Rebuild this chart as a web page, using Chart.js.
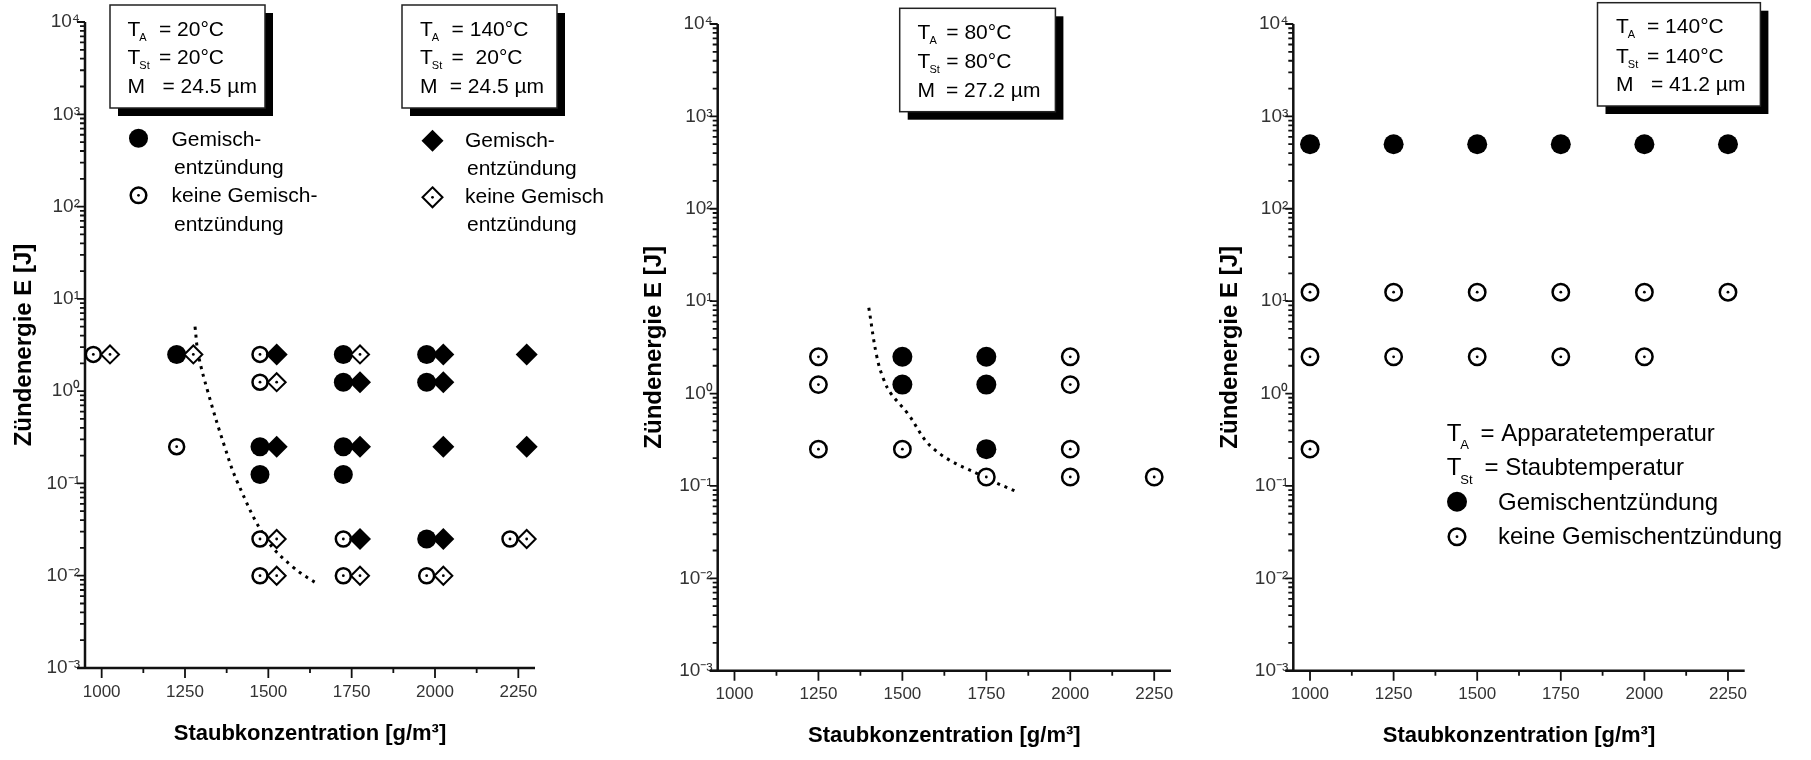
<!DOCTYPE html>
<html>
<head>
<meta charset="utf-8">
<script src="https://cdn.jsdelivr.net/npm/chart.js@4.4.1/dist/chart.umd.min.js"></script>
<style>
html, body { margin: 0; padding: 0; background: #fff; }
#wrap { position: relative; width: 1811px; height: 760px; overflow: hidden; }
canvas { position: absolute; top: 0; }
</style>
</head>
<body>
<div id="wrap">
  <canvas id="c1" width="620" height="760" style="left:0px"></canvas>
  <canvas id="c2" width="580" height="760" style="left:620px"></canvas>
  <canvas id="c3" width="611" height="760" style="left:1200px"></canvas>
</div>
<script>
// axis ticks
const xMajor = [1000, 1250, 1500, 1750, 2000, 2250]
const xMinor = [1125, 1375, 1625, 1875, 2125]
const yExps = [-3, -2, -1, 0, 1, 2, 3, 4]

// panel 1: TA=20°C (circles) and TA=140°C (diamonds), M=24.5 µm
const p1CircIgnX = [1250, 1500, 1500, 1750, 1750, 1750, 1750, 2000, 2000, 2000]
const p1CircIgnE = [2.5, 0.25, 0.125, 2.5, 1.25, 0.25, 0.125, 2.5, 1.25, 0.025]
const p1CircNoX = [1000, 1250, 1500, 1500, 1500, 1500, 1750, 1750, 2000, 2250]
const p1CircNoE = [2.5, 0.25, 2.5, 1.25, 0.025, 0.01, 0.025, 0.01, 0.01, 0.025]
const p1DiaIgnX = [1500, 1500, 1750, 1750, 1750, 2000, 2000, 2000, 2000, 2250, 2250]
const p1DiaIgnE = [2.5, 0.25, 1.25, 0.25, 0.025, 2.5, 1.25, 0.25, 0.025, 2.5, 0.25]
const p1DiaNoX = [1000, 1250, 1500, 1500, 1500, 1750, 1750, 2000, 2250]
const p1DiaNoE = [2.5, 2.5, 1.25, 0.025, 0.01, 2.5, 0.01, 0.01, 0.025]
const p1CurveX = [1280, 1290, 1318, 1369, 1409, 1494, 1573, 1650]
const p1CurveE = [5, 2.5, 1, 0.25, 0.1, 0.025, 0.0125, 0.008]

// panel 2: TA=80°C, M=27.2 µm
const p2IgnX = [1500, 1500, 1750, 1750, 1750]
const p2IgnE = [2.5, 1.25, 2.5, 1.25, 0.25]
const p2NoX = [1250, 1250, 1250, 1500, 1750, 2000, 2000, 2000, 2000, 2250]
const p2NoE = [2.5, 1.25, 0.25, 0.25, 0.125, 2.5, 1.25, 0.25, 0.125, 0.125]
const p2CurveX = [1400, 1424, 1445, 1466, 1514, 1594, 1743, 1845]
const p2CurveE = [8.5, 2.5, 1.4, 1, 0.62, 0.25, 0.125, 0.085]

// panel 3: TA=140°C, M=41.2 µm
const p3IgnX = [1000, 1250, 1500, 1750, 2000, 2250]
const p3IgnE = [500, 500, 500, 500, 500, 500]
const p3NoX = [1000, 1250, 1500, 1750, 2000, 2250, 1000, 1250, 1500, 1750, 2000, 1000]
const p3NoE = [12.5, 12.5, 12.5, 12.5, 12.5, 12.5, 2.5, 2.5, 2.5, 2.5, 2.5, 0.25]

const FONT = '"Liberation Sans", Arial, Helvetica, sans-serif'
const SUP = {'-': '⁻', '0': '⁰', '1': '¹', '2': '²', '3': '³', '4': '⁴', '5': '⁵', '6': '⁶', '7': '⁷', '8': '⁸', '9': '⁹'}

const pts = (xs, ys, dx = 0) => xs.map((x, i) => ({x: x + dx, y: ys[i]}))

const filled = (data, style, r, order) => ({
    data, order, pointStyle: style, pointRadius: r, pointHoverRadius: r,
    pointBackgroundColor: '#000', pointBorderColor: '#000', pointBorderWidth: 0, clip: false
})
const hollow = (data, style, r, bw, order) => ({
    data, order, pointStyle: style, pointRadius: r, pointHoverRadius: r,
    pointBackgroundColor: '#fff', pointBorderColor: '#000', pointBorderWidth: bw, clip: false
})
const dots = (data) => ({
    data, order: 0, pointStyle: 'circle', pointRadius: 1.4, pointHoverRadius: 1.4,
    pointBackgroundColor: '#000', pointBorderWidth: 0, clip: false
})
const curve = (data) => ({
    data, order: 9, showLine: true, pointRadius: 0, borderColor: '#000', borderWidth: 3,
    borderDash: [3, 5], tension: 0.4, fill: false, clip: false
})

// axis lines and tick marks
const axesPlugin = {
    id: 'frameAxes',
    beforeDatasetsDraw(chart) {
        const {ctx, chartArea: a, scales: {x, y}} = chart
        ctx.save()
        ctx.strokeStyle = '#111'
        ctx.lineWidth = 2.5
        ctx.beginPath()
        ctx.moveTo(a.left, a.top)
        ctx.lineTo(a.left, a.bottom)
        ctx.moveTo(a.left - 8, a.bottom)
        ctx.lineTo(a.right, a.bottom)
        ctx.stroke()
        ctx.lineWidth = 1.8
        ctx.beginPath()
        xMajor.forEach(v => {
            const px = x.getPixelForValue(v)
            ctx.moveTo(px, a.bottom)
            ctx.lineTo(px, a.bottom + 10)
        })
        xMinor.forEach(v => {
            const px = x.getPixelForValue(v)
            ctx.moveTo(px, a.bottom)
            ctx.lineTo(px, a.bottom + 5)
        })
        yExps.forEach(e => {
            for (let k = 1; k <= 9; k++) {
                if (e === 4 && k > 1) break
                const py = y.getPixelForValue(k * Math.pow(10, e))
                ctx.moveTo(a.left - (k === 1 ? 8 : 5), py)
                ctx.lineTo(a.left, py)
            }
        })
        ctx.stroke()
        ctx.restore()
    }
}

const makeScales = (yWidth, xHeight, yTitlePad, xTitlePad) => ({
    x: {
        type: 'linear', min: 950, max: 2300,
        afterBuildTicks: s => { s.ticks = xMajor.map(v => ({value: v})) },
        afterFit: s => { s.height = xHeight },
        grid: {display: false, drawTicks: false},
        border: {display: false},
        ticks: {autoSkip: false, maxRotation: 0, padding: 13.8, color: '#333', font: {family: FONT, size: 17},
            callback: v => String(v)},
        title: {display: true, text: 'Staubkonzentration [g/m³]', color: '#000',
            font: {family: FONT, size: 22, weight: 'bold'}, padding: {top: 0, bottom: xTitlePad}}
    },
    y: {
        type: 'logarithmic', min: 1e-3, max: 1e4,
        afterBuildTicks: s => { s.ticks = yExps.map(e => ({value: Math.pow(10, e)})) },
        afterFit: s => { s.width = yWidth },
        grid: {display: false, drawTicks: false},
        border: {display: false},
        ticks: {
            autoSkip: false, padding: 5, color: '#333', font: {family: FONT, size: 19},
            callback: v => '10' + String(Math.round(Math.log10(v))).split('').map(c => SUP[c]).join('')
        },
        title: {display: true, text: 'Zündenergie E [J]', color: '#000',
            font: {family: FONT, size: 24, weight: 'bold'}, padding: {top: yTitlePad, bottom: 0}}
    }
})

// drawing helpers for the text boxes and legends
const setFont = (ctx, size, bold) => { ctx.font = (bold ? 'bold ' : '') + size + 'px ' + FONT }
const tRow = (ctx, x, base, sub, eqX, rest, size, subSize, subDy) => {
    setFont(ctx, size)
    ctx.fillText('T', x, base)
    const w = ctx.measureText('T').width
    setFont(ctx, subSize)
    ctx.fillText(sub, x + w - 1, base + subDy)
    setFont(ctx, size)
    ctx.fillText(rest, eqX, base)
}
const infoBox = (ctx, x1, y1, x2, y2) => {
    ctx.fillStyle = '#000'
    ctx.fillRect(x1 + 8, y1 + 8, x2 - x1, y2 - y1)
    ctx.fillStyle = '#fff'
    ctx.fillRect(x1, y1, x2 - x1, y2 - y1)
    ctx.strokeStyle = '#222'
    ctx.lineWidth = 1.5
    ctx.strokeRect(x1, y1, x2 - x1, y2 - y1)
    ctx.fillStyle = '#000'
}
const boxText = (ctx, tx, eq, base, vals) => {
    tRow(ctx, tx, base[0], 'A', eq[0], vals[0], 21, 11, 5)
    tRow(ctx, tx, base[1], 'St', eq[1], vals[1], 21, 11, 5)
    setFont(ctx, 21)
    ctx.fillText('M', tx, base[2])
    ctx.fillText(vals[2], eq[2], base[2])
}
const symCircle = (ctx, x, y, r, isFilled) => {
    ctx.beginPath()
    ctx.arc(x, y, r, 0, Math.PI * 2)
    if (isFilled) { ctx.fillStyle = '#000'; ctx.fill() }
    else {
        ctx.lineWidth = 2.5; ctx.strokeStyle = '#000'; ctx.stroke()
        ctx.beginPath(); ctx.arc(x, y, 1.4, 0, Math.PI * 2); ctx.fillStyle = '#000'; ctx.fill()
    }
}
const symDiamond = (ctx, x, y, r, isFilled) => {
    ctx.beginPath()
    ctx.moveTo(x, y - r); ctx.lineTo(x + r, y); ctx.lineTo(x, y + r); ctx.lineTo(x - r, y); ctx.closePath()
    if (isFilled) { ctx.fillStyle = '#000'; ctx.fill() }
    else {
        ctx.lineWidth = 2; ctx.strokeStyle = '#000'; ctx.stroke()
        ctx.beginPath(); ctx.arc(x, y, 1.4, 0, Math.PI * 2); ctx.fillStyle = '#000'; ctx.fill()
    }
}

const notes1 = {
    id: 'notes1',
    afterDraw(chart) {
        const ctx = chart.ctx
        ctx.save()
        ctx.textBaseline = 'alphabetic'
        ctx.textAlign = 'left'
        infoBox(ctx, 110, 5, 265, 108)
        boxText(ctx, 127.5, [159, 159, 162.5], [36, 64, 93], ['= 20°C', '= 20°C', '= 24.5 µm'])
        infoBox(ctx, 402, 5, 557, 108)
        boxText(ctx, 420, [451.6, 451.6, 449.7], [36, 64, 93], ['= 140°C', '=  20°C', '= 24.5 µm'])
        symCircle(ctx, 138.5, 138.3, 9.5, true)
        symCircle(ctx, 138.5, 195.3, 7.8, false)
        symDiamond(ctx, 432.5, 140.8, 11, true)
        symDiamond(ctx, 432.5, 197.3, 10, false)
        ctx.fillStyle = '#000'
        setFont(ctx, 21)
        ctx.fillText('Gemisch-', 171.5, 145.7)
        ctx.fillText('entzündung', 174, 174)
        ctx.fillText('keine Gemisch-', 171.5, 202)
        ctx.fillText('entzündung', 174, 230.7)
        ctx.fillText('Gemisch-', 465, 146.7)
        ctx.fillText('entzündung', 467, 175)
        ctx.fillText('keine Gemisch', 465, 202.7)
        ctx.fillText('entzündung', 467, 231)
        ctx.restore()
    }
}
const notes2 = {
    id: 'notes2',
    afterDraw(chart) {
        const ctx = chart.ctx
        const ox = 620
        ctx.save()
        ctx.textBaseline = 'alphabetic'
        ctx.textAlign = 'left'
        infoBox(ctx, 899.7 - ox, 8.3, 1055.4 - ox, 111.7)
        boxText(ctx, 917.6 - ox, [946.3 - ox, 946.3 - ox, 946 - ox], [39, 68, 97], ['= 80°C', '= 80°C', '= 27.2 µm'])
        ctx.restore()
    }
}
const notes3 = {
    id: 'notes3',
    afterDraw(chart) {
        const ctx = chart.ctx
        const ox = 1200
        ctx.save()
        ctx.textBaseline = 'alphabetic'
        ctx.textAlign = 'left'
        infoBox(ctx, 1597.5 - ox, 2.7, 1760.4 - ox, 106)
        boxText(ctx, 1616 - ox, [1647 - ox, 1647 - ox, 1651 - ox], [33, 62.7, 90.7], ['= 140°C', '= 140°C', '= 41.2 µm'])
        ctx.fillStyle = '#000'
        tRow(ctx, 1446.7 - ox, 440.7, 'A', 1480.6 - ox, '= Apparatetemperatur', 24, 13, 8)
        tRow(ctx, 1446.7 - ox, 475, 'St', 1484.5 - ox, '= Staubtemperatur', 24, 13, 9)
        symCircle(ctx, 1457 - ox, 501.7, 10, true)
        symCircle(ctx, 1457 - ox, 536.7, 8.3, false)
        ctx.fillStyle = '#000'
        setFont(ctx, 24)
        ctx.fillText('Gemischentzündung', 1498 - ox, 510)
        ctx.fillText('keine Gemischentzündung', 1498 - ox, 544)
        ctx.restore()
    }
}

const baseOptions = (scales, padRight, padTop) => ({
    responsive: false,
    animation: false,
    events: [],
    layout: {padding: {left: 0, right: padRight, top: padTop, bottom: 0}},
    plugins: {legend: {display: false}, tooltip: {enabled: false}},
    scales
})

// panel 1
const p1CircNo = pts(p1CircNoX, p1CircNoE, -25)
const p1DiaNo = pts(p1DiaNoX, p1DiaNoE, 25)
new Chart(document.querySelector('#c1'), {
    type: 'scatter',
    data: {
        datasets: [
            dots(p1CircNo),
            dots(p1DiaNo),
            hollow(p1DiaNo, 'rectRot', 9, 2, 1),
            filled(pts(p1DiaIgnX, p1DiaIgnE, 25), 'rectRot', 11, 2),
            hollow(p1CircNo, 'circle', 7.5, 2.5, 3),
            filled(pts(p1CircIgnX, p1CircIgnE, -25), 'circle', 9.5, 4),
            curve(pts(p1CurveX, p1CurveE))
        ]
    },
    options: baseOptions(makeScales(85, 92, 9.6, 13), 85, 22),
    plugins: [axesPlugin, notes1]
})

// panel 2
const p2No = pts(p2NoX, p2NoE)
new Chart(document.querySelector('#c2'), {
    type: 'scatter',
    data: {
        datasets: [
            dots(p2No),
            hollow(p2No, 'circle', 8.2, 2.5, 3),
            filled(pts(p2IgnX, p2IgnE), 'circle', 10, 4),
            curve(pts(p2CurveX, p2CurveE))
        ]
    },
    options: baseOptions(makeScales(97.7, 89.3, 20.3, 10.5), 29, 24),
    plugins: [axesPlugin, notes2]
})

// panel 3
const p3No = pts(p3NoX, p3NoE)
new Chart(document.querySelector('#c3'), {
    type: 'scatter',
    data: {
        datasets: [
            dots(p3No),
            hollow(p3No, 'circle', 8.2, 2.5, 3),
            filled(pts(p3IgnX, p3IgnE), 'circle', 10, 4)
        ]
    },
    options: baseOptions(makeScales(93.3, 89.3, 15.8, 10.5), 66.3, 24),
    plugins: [axesPlugin, notes3]
})
</script>
</body>
</html>
